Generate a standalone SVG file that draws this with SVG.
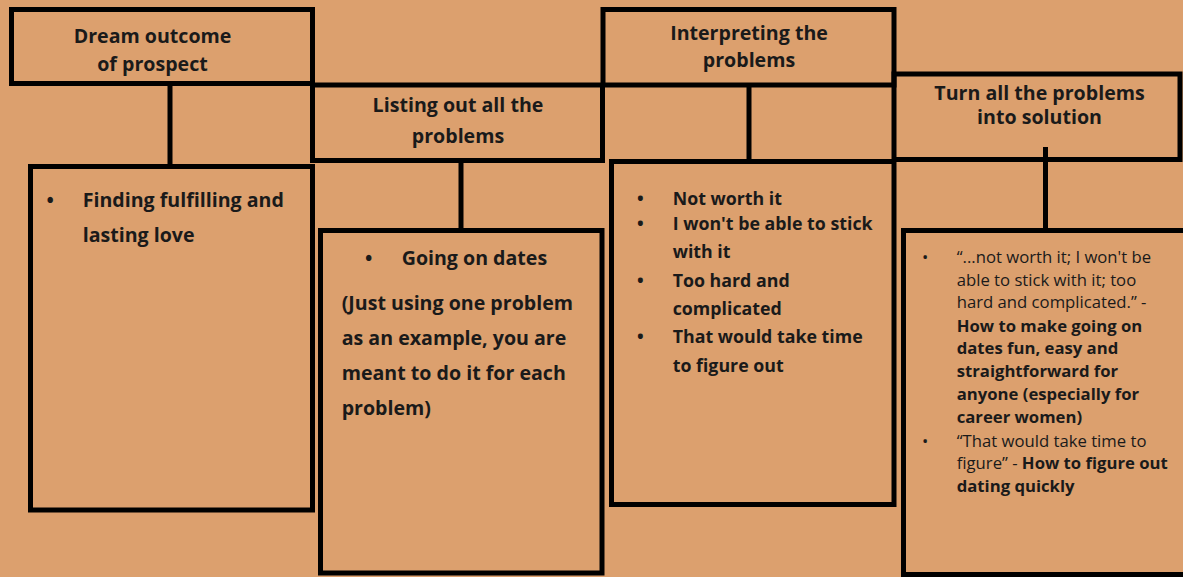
<svg xmlns="http://www.w3.org/2000/svg" width="1183" height="577" viewBox="0 0 1183 577">
<style>
.box{fill:none;stroke:#000;stroke-width:5}
.conn{stroke:#000;stroke-width:5;fill:none}
.h{font-family:"Open Sans","Liberation Sans",sans-serif;font-weight:700;font-size:19.6px;fill:#1a1a1a;text-anchor:middle}
.b{font-family:"Open Sans","Liberation Sans",sans-serif;font-weight:700;font-size:19.6px;fill:#1a1a1a}
.b3{font-family:"Open Sans","Liberation Sans",sans-serif;font-weight:700;font-size:17.8px;fill:#1a1a1a}
.r{font-family:"Open Sans","Liberation Sans",sans-serif;font-size:16.7px;fill:#1a1a1a}
.rb{font-weight:700}
</style>
<rect width="1183" height="577" fill="#DCA06E"/>
<g id="connectors">
<line class="conn" x1="170" y1="84" x2="170" y2="166"/>
<line class="conn" x1="461" y1="160" x2="461" y2="230"/>
<line class="conn" x1="749" y1="85" x2="749" y2="162"/>
<line class="conn" x1="1045.5" y1="147" x2="1045.5" y2="230"/>
</g>
<g id="header1">
<rect class="box" x="11.5" y="9.5" width="301" height="74"/>
<text class="h" x="152.5" y="42.7">Dream outcome</text>
<text class="h" x="152.5" y="71">of prospect</text>
</g>
<g id="header2">
<rect class="box" x="312.5" y="85" width="290" height="75.5"/>
<text class="h" x="458" y="112.3">Listing out all the</text>
<text class="h" x="458" y="143.3">problems</text>
</g>
<g id="header3">
<rect class="box" x="603" y="9.5" width="291" height="75.5"/>
<text class="h" x="749" y="40">Interpreting the</text>
<text class="h" x="749" y="66.7">problems</text>
</g>
<g id="header4">
<rect class="box" x="894" y="74" width="286" height="85.5"/>
<text class="h" x="1039.5" y="100">Turn all the problems</text>
<text class="h" x="1039.5" y="123.5">into solution</text>
</g>
<g id="body1">
<rect class="box" x="30.5" y="166.5" width="282" height="343.5"/>
<text class="b" x="46.5" y="206.7">•</text>
<text class="b" x="82.7" y="206.7">Finding fulfilling and</text>
<text class="b" x="82.7" y="241.7">lasting love</text>
</g>
<g id="body2">
<rect class="box" x="320.5" y="230.5" width="281.5" height="342.5"/>
<text class="b" x="365" y="265">•</text>
<text class="b" x="401.7" y="265">Going on dates</text>
<text class="b" x="341.7" y="310">(Just using one problem</text>
<text class="b" x="341.7" y="345">as an example, you are</text>
<text class="b" x="341.7" y="380">meant to do it for each</text>
<text class="b" x="341.7" y="415">problem)</text>
</g>
<g id="body3">
<rect class="box" x="611.5" y="161.5" width="282.5" height="343"/>
<text class="b3" x="637" y="205">•</text>
<text class="b3" x="672.7" y="205">Not worth it</text>
<text class="b3" x="637" y="230">•</text>
<text class="b3" x="672.7" y="230">I won't be able to stick</text>
<text class="b3" x="672.7" y="258.3">with it</text>
<text class="b3" x="637" y="286.7">•</text>
<text class="b3" x="672.7" y="286.7">Too hard and</text>
<text class="b3" x="672.7" y="315">complicated</text>
<text class="b3" x="637" y="343.3">•</text>
<text class="b3" x="672.7" y="343.3">That would take time</text>
<text class="b3" x="672.7" y="371.7">to figure out</text>
</g>
<g id="body4">
<rect class="box" x="903.5" y="230.5" width="290" height="344"/>
<text class="r" x="922" y="263.3">•</text>
<text class="r" x="956.7" y="263.3">“...not worth it; I won't be</text>
<text class="r" x="956.7" y="285.7">able to stick with it; too</text>
<text class="r" x="956.7" y="308.3">hard and complicated.” -</text>
<text class="r rb" x="956.7" y="331.7">How to make going on</text>
<text class="r rb" x="956.7" y="354.3">dates fun, easy and</text>
<text class="r rb" x="956.7" y="377.3">straightforward for</text>
<text class="r rb" x="956.7" y="400">anyone (especially for</text>
<text class="r rb" x="956.7" y="423.3">career women)</text>
<text class="r" x="922" y="446.7">•</text>
<text class="r" x="956.7" y="446.7">“That would take time to</text>
<text class="r" x="956.7" y="469">figure” - <tspan class="rb">How to figure out</tspan></text>
<text class="r rb" x="956.7" y="491.7">dating quickly</text>
</g>
</svg>
